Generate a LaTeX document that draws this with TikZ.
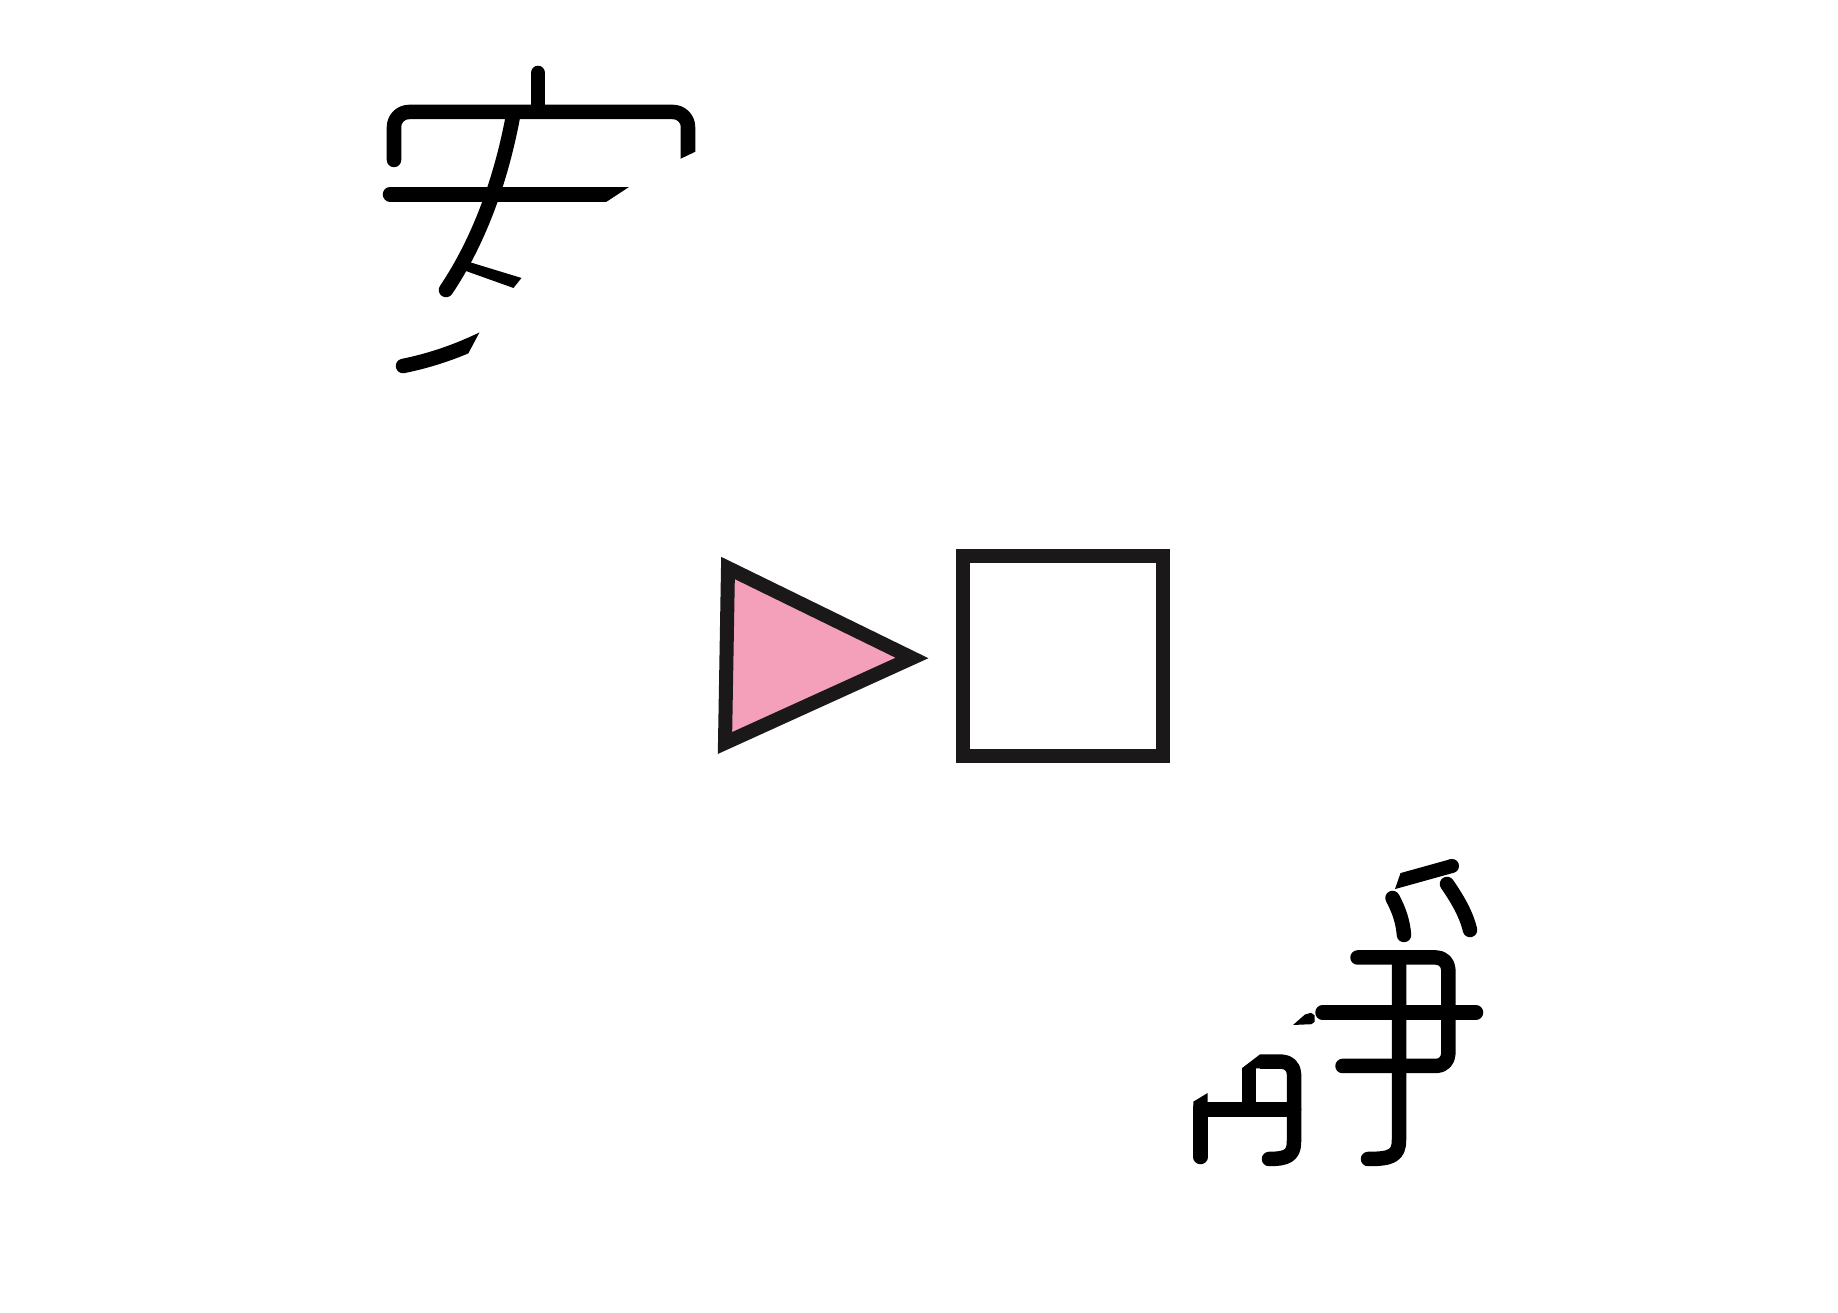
\documentclass[tikz,border=0pt]{standalone}
\usepackage{tikz}
\usetikzlibrary{calc}
\definecolor{ink}{RGB}{0,0,0}
\definecolor{boxink}{RGB}{26,24,24}
\definecolor{trifill}{RGB}{244,160,187}

\begin{document}
\begin{tikzpicture}[x=0.01cm, y=-0.01cm,
    stroke/.style={draw=ink, line width=0.145cm, line cap=round, line join=round},
    flatstroke/.style={draw=ink, line width=0.145cm, line cap=butt, line join=round},
    cut/.style={fill=ink, draw=none},
    shapeline/.style={draw=boxink, line width=0.14cm, line join=miter}]
    \fill[white] (0,0) rectangle (1838,1313);
    \useasboundingbox (0,0) rectangle (1838,1313);

    % upper left glyph pieces
    \draw[stroke] (538,73) -- (538,110);
    \begin{scope}
        \clip (370,50) -- (720,50) -- (720,139.9) -- (660,168.6) -- (370,168.6) -- cycle;
        \draw[stroke, rounded corners=0.15cm] (394,160) -- (394,112) -- (688,112) -- (688,170);
    \end{scope}
    \begin{scope}
        \clip (370,170) -- (655,170) -- (578.6,220) -- (370,220) -- cycle;
        \draw[stroke] (390,194.3) -- (640,194.3);
    \end{scope}
    \draw[stroke] (513,116) .. controls (503,170) and (483,235) .. (446,290);
    \fill[cut] (460,259.2) -- (521.5,278) -- (513.5,288) -- (460,268.9) -- cycle;
    \begin{scope}
        \clip (350,300) -- (496.8,300) -- (443.4,400) -- (350,400) -- cycle;
        \draw[stroke] (403,366) .. controls (428,361) and (452,353) .. (474,343) -- ++(14,-6.4);
    \end{scope}

    % centre shapes
    \filldraw[shapeline, fill=trifill] (728,568) -- (912,658) -- (725,743) -- cycle;
    \draw[shapeline] (962.5,556) rectangle (1162.5,756);

    % lower right glyph pieces
    \fill[cut] (1450.1,859.3) -- (1400.5,873.1) -- (1395,889.1) -- (1453.9,872.7) -- cycle;
    \fill[ink] (1452,866) circle (0.07cm);
    \draw[stroke] (1392.5,898) .. controls (1399,910) and (1403,922) .. (1404,935);
    \draw[stroke] (1447,884) .. controls (1456,897) and (1466,913) .. (1470,930);
    \draw[stroke, rounded corners=0.12cm] (1357.5,957.5) -- (1448.3,957.5) -- (1448.3,1066) -- (1342.5,1066);
    \draw[stroke] (1322.5,1012.5) -- (1476,1012.5);
    \fill[cut] (1293,1025) -- (1305,1014.5) -- (1311,1012.8) -- (1314.5,1015.2)
        -- (1314.5,1021.8) -- (1311.5,1024.2) -- cycle;
    \draw[stroke] (1399,957.5) -- (1399,1140) .. controls (1399,1156) and (1391,1159) .. (1368,1159);

    \draw[stroke] (1200.5,1157) -- (1200.5,1108);
    \fill[cut] (1193.3,1108) -- (1193.3,1101.7) -- (1207.7,1093) -- (1207.7,1108) -- cycle;
    \draw[stroke] (1200.5,1109.7) -- (1294,1109.7);
    \draw[flatstroke] (1249,1110) -- (1249,1068.3);
    \fill[cut] (1241.8,1068.3) -- (1260,1054.4) -- (1260,1068.3) -- cycle;
    \draw[flatstroke, rounded corners=0.12cm] (1260,1061.7) -- (1294,1061.7) [sharp corners] -- (1294,1142);
    \draw[stroke] (1294,1142) .. controls (1294,1156) and (1286,1159) .. (1269,1159);
\end{tikzpicture}
\end{document}
